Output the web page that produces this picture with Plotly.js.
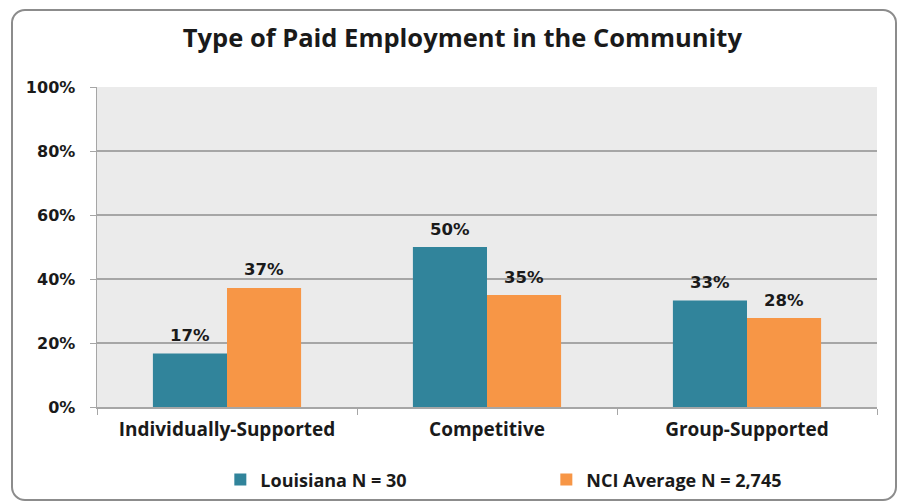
<!DOCTYPE html>
<html><head><meta charset="utf-8">
<script src="https://cdn.plot.ly/plotly-3.0.1.min.js"></script>
<style>
html,body{margin:0;padding:0;background:#fff;width:903px;height:502px;overflow:hidden;}
#frame{position:absolute;left:11px;top:9px;width:882px;height:488px;border:2px solid #8c8c8c;border-radius:14px;}
#chart{position:absolute;left:0;top:0;width:903px;height:502px;}
</style></head>
<body>
<div id="frame"></div>
<div id="chart"></div>
<script>
const categories = ["Individually-Supported", "Competitive", "Group-Supported"];
const louisiana = [16.7, 50.0, 33.3];
const nciAverage = [37.2, 35.0, 27.8];
const seriesNames = ["Louisiana N = 30", "NCI Average N = 2,745"];
const yTickVals = [0, 20, 40, 60, 80, 100];
const yTickText = ["0%", "20%", "40%", "60%", "80%", "100%"];

const teal = "#31849B", orange = "#F79646";
const labelFont = {family: "DejaVu Sans", size: 16.5, color: "#1a1a1a"};
const catFont = {family: "Open Sans", size: 19, color: "#1a1a1a"};

const traces = [
  {type: "bar", x: categories, y: louisiana, name: "<b>" + seriesNames[0] + "</b>", marker: {color: teal}},
  {type: "bar", x: categories, y: nciAverage, name: "<b>" + seriesNames[1] + "</b>", marker: {color: orange}}
];

const annotations = [];
[louisiana, nciAverage].forEach((vals, si) => {
  vals.forEach((v, i) => {
    annotations.push({
      x: categories[i], y: v, xref: "x", yref: "y",
      text: "<b>" + Math.round(v) + "%</b>", showarrow: false,
      xshift: si === 0 ? -37 : 37, yshift: 18,
      font: labelFont
    });
  });
});

const layout = {
  width: 903, height: 502,
  paper_bgcolor: "rgba(0,0,0,0)",
  plot_bgcolor: "#EBEBEB",
  margin: {l: 97, r: 26, t: 87, b: 95, autoexpand: false},
  title: {text: "<b>Type of Paid Employment in the Community</b>", x: 0.512, xanchor: "center", y: 0.925, yanchor: "middle",
          font: {family: "Open Sans", size: 25.5, color: "#1a1a1a"}},
  barmode: "group",
  bargap: 0.43, bargroupgap: 0,
  xaxis: {
    tickvals: categories, ticktext: categories.map(c => "<b>" + c + "</b>"),
    showline: true, linecolor: "#a6a6a6", linewidth: 1.5,
    ticks: "outside", tickson: "boundaries", ticklen: 6, tickcolor: "#a6a6a6",
    tickfont: catFont, ticklabelstandoff: 5,
    showgrid: false
  },
  yaxis: {
    range: [0, 100], tickvals: yTickVals, ticktext: yTickText.map(t => "<b>" + t + "</b>"),
    showline: true, linecolor: "#a6a6a6", linewidth: 1.5,
    ticks: "outside", ticklen: 6, tickcolor: "#a6a6a6",
    gridcolor: "#a6a6a6", gridwidth: 1.3,
    tickfont: {family: "DejaVu Sans", size: 16, color: "#1a1a1a"},
    ticklabelstandoff: 11, zeroline: false, fixedrange: true
  },
  showlegend: true,
  legend: {orientation: "h", xref: "container", yref: "container", x: 0.244, xanchor: "left", y: 0.044, yanchor: "middle",
           font: {family: "Open Sans", size: 18, color: "#1a1a1a"},
           entrywidth: 281, entrywidthmode: "pixels", bgcolor: "rgba(0,0,0,0)", itemclick: false},
  annotations: annotations
};

Plotly.newPlot("chart", traces, layout, {displayModeBar: false, staticPlot: true});
</script>
</body></html>
